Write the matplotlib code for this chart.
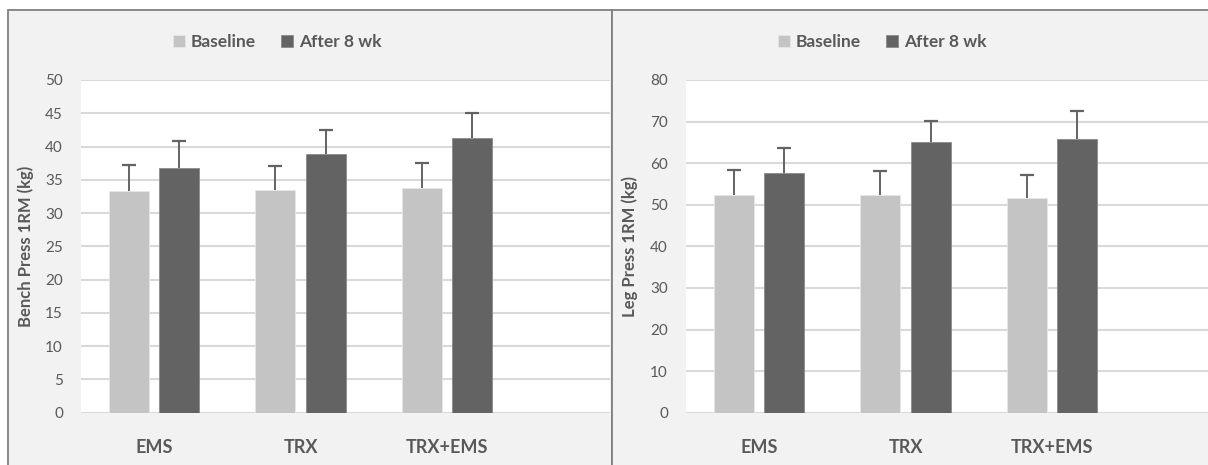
import matplotlib
matplotlib.use("Agg")
import matplotlib.pyplot as plt
from matplotlib.patches import Rectangle
import numpy as np

plt.rcParams['font.family'] = ['Lato', 'DejaVu Sans']

categories = ["EMS", "TRX", "TRX+EMS"]
series_names = ["Baseline", "After 8 wk"]

bench_baseline = [33.3, 33.5, 33.7]
bench_after = [36.7, 38.9, 41.3]
bench_baseline_sd = [3.9, 3.6, 3.8]
bench_after_sd = [4.2, 3.6, 3.7]

leg_baseline = [52.3, 52.3, 51.6]
leg_after = [57.6, 65.1, 65.9]
leg_baseline_sd = [6.1, 5.8, 5.5]
leg_after_sd = [6.0, 5.0, 6.6]

W, H = 1208, 465
fig = plt.figure(figsize=(W / 100, H / 100), dpi=100, facecolor="white")

C_BASE = "#C4C4C4"
C_AFTER = "#636363"
TXT = "#595959"
GRID = "#D9D9D9"
PANEL = "#F2F2F2"

def fx(px):
    return px / W

def fy(py):
    return 1 - py / H

# panel backgrounds and frame
for x0, x1 in [(8, 612), (612, 1209)]:
    fig.patches.append(Rectangle((fx(x0), -0.01), fx(x1 - x0), fy(10) + 0.01, transform=fig.transFigure,
                                 facecolor=PANEL, edgecolor="#808080", linewidth=1.3, zorder=-5))

def panel(ax_left, ax_right, base, after, base_sd, after_sd, ymax, ystep, ylabel, ylabel_x, leg_x):
    top, bottom = 80, 412.7
    ax = fig.add_axes([fx(ax_left), fy(bottom), fx(ax_right - ax_left), (bottom - top) / H])
    ax.set_facecolor("white")
    x = np.arange(len(categories))
    cat_px = 146.6
    lo = -73 / cat_px
    ax.set_xlim(lo, lo + (ax_right - ax_left) / cat_px)
    ax.set_ylim(0, ymax)
    bw = 0.273
    off = 0.172
    for xs, vals, sds, col, name in [(x - off, base, base_sd, C_BASE, series_names[0]),
                                     (x + off, after, after_sd, C_AFTER, series_names[1])]:
        vals = np.asarray(vals)
        sds = np.asarray(sds)
        ax.bar(xs, vals, bw, color=col, edgecolor="#E6E6E6" if col == C_BASE else "#8A8A8A",
               linewidth=0.6, zorder=3, label=name)
        ax.vlines(xs, vals, vals + sds, color=C_AFTER, linewidth=1.4, zorder=4)
        ax.plot(xs, vals + sds, linestyle="none", marker="_", markersize=10,
                markeredgewidth=1.6, color=C_AFTER, zorder=4)
    ax.set_yticks(np.arange(0, ymax + 0.1, ystep))
    ax.yaxis.grid(True, color=GRID, linewidth=1.5, zorder=0)
    ax.set_axisbelow(True)
    for s in ax.spines.values():
        s.set_visible(False)
    ax.set_xticks(x)
    ax.set_xticklabels(categories)
    ax.tick_params(axis="both", length=0)
    ax.tick_params(axis="y", labelsize=11, labelcolor=TXT, pad=13)
    ax.tick_params(axis="x", labelsize=13, labelcolor=TXT, pad=19)
    for t in ax.get_xticklabels():
        t.set_fontweight("bold")
    ax.set_ylabel(ylabel, fontsize=12, fontweight="bold", color=TXT)
    ax.yaxis.set_label_coords((ylabel_x - ax_left) / (ax_right - ax_left), 0.5)
    leg = ax.legend(loc="center", bbox_to_anchor=(fx(leg_x), fy(42)), bbox_transform=fig.transFigure,
                    ncol=2, frameon=False, handlelength=0.7, handleheight=0.7, handletextpad=0.3,
                    columnspacing=1.5, prop=dict(weight="bold", size=12.5))
    for t in leg.get_texts():
        t.set_color(TXT)
    return ax

panel(81, 610, bench_baseline, bench_after, bench_baseline_sd, bench_after_sd, 50, 5,
      "Bench Press 1RM (kg)", 34, 277)
panel(686, 1208, leg_baseline, leg_after, leg_baseline_sd, leg_after_sd, 80, 10,
      "Leg Press 1RM (kg)", 638, 882)

fig.savefig("out.png", dpi=100, facecolor="white")
